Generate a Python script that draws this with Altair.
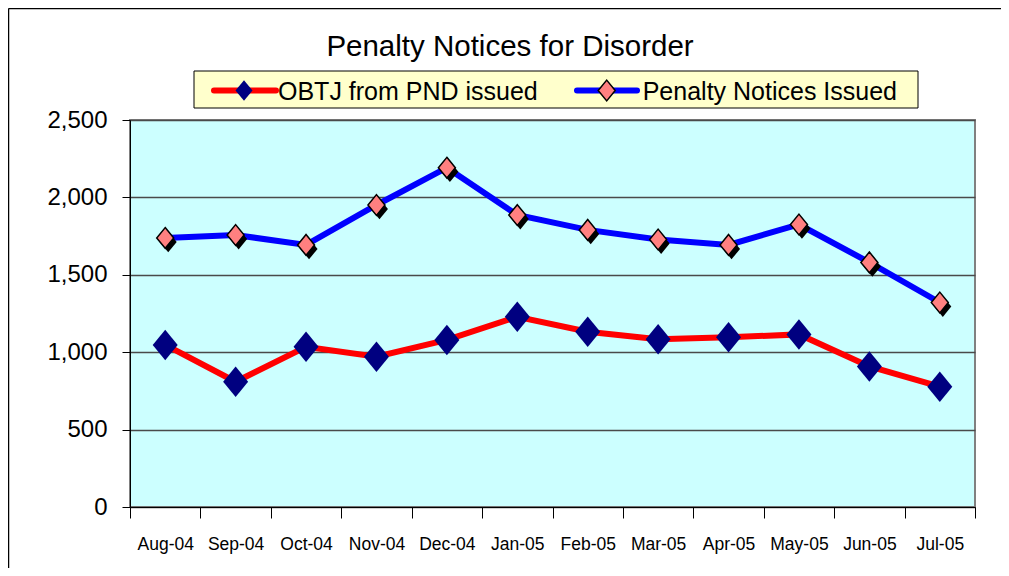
import altair as alt
import pandas as pd

months = ["Aug-04", "Sep-04", "Oct-04", "Nov-04", "Dec-04", "Jan-05",
          "Feb-05", "Mar-05", "Apr-05", "May-05", "Jun-05", "Jul-05"]
obtj = [1047, 809, 1035, 971, 1079, 1229, 1132, 1083, 1096, 1115, 908, 777]
penalty = [1738, 1757, 1693, 1951, 2192, 1886, 1790, 1728, 1693, 1825, 1580, 1321]
series_names = ["OBTJ from PND issued", "Penalty Notices Issued"]
title_text = "Penalty Notices for Disorder"

FONT = "Liberation Sans, Arial, sans-serif"
DIAMOND = "M0,-1.22L1,0L0,1.22L-1,0Z"

rows = []
for m, v in zip(months, obtj):
    rows.append({"month": m, "value": v, "series": series_names[0]})
for m, v in zip(months, penalty):
    rows.append({"month": m, "value": v, "series": series_names[1]})
df = pd.DataFrame(rows)

xenc = alt.X("month:N", sort=months,
             scale=alt.Scale(type="band", paddingInner=0, paddingOuter=0),
             axis=alt.Axis(title=None, labelAngle=0, tickBand="extent", tickSize=11,
                           tickColor="black", domainColor="black", domainWidth=1,
                           labelFont=FONT, labelFontSize=17.5, labelColor="black",
                           labelPadding=17, grid=False))
yenc = alt.Y("value:Q",
             scale=alt.Scale(domain=[0, 2500], nice=False, zero=True),
             axis=alt.Axis(title=None, values=[0, 500, 1000, 1500, 2000, 2500], format=",.0f",
                           tickSize=8, tickColor="black", domainColor="black", domainWidth=1,
                           labelFont=FONT, labelFontSize=24, labelColor="black",
                           labelPadding=15, grid=True, gridColor="#4a4a4a", gridWidth=1.3))
color = alt.Color("series:N", scale=alt.Scale(domain=series_names, range=["#FF0000", "#0000FF"]),
                  legend=None)

base = alt.Chart(df)
lines = base.mark_line(strokeWidth=6).encode(x=xenc, y=yenc, color=color)

x2 = alt.X("month:N", sort=months)
y2 = alt.Y("value:Q")
navy = base.transform_filter(alt.datum.series == series_names[0]).mark_point(
    shape=DIAMOND, size=625, filled=True, fill="#000080", opacity=1
).encode(x=x2, y=y2)
shadow = base.transform_filter(alt.datum.series == series_names[1]).mark_point(
    shape=DIAMOND, size=289, filled=True, fill="black", opacity=1, xOffset=3, yOffset=4
).encode(x=x2, y=y2)
salmon = base.transform_filter(alt.datum.series == series_names[1]).mark_point(
    shape=DIAMOND, size=289, filled=True, fill="#FF8080", stroke="black", strokeWidth=1.5, opacity=1
).encode(x=x2, y=y2)

one = pd.DataFrame({"a": [0]})
frame_top = alt.Chart(one).mark_rule(color="black", strokeWidth=1.5).encode(
    x=alt.value(-121.5), x2=alt.value(871), y=alt.value(-111.5))
frame_left = alt.Chart(one).mark_rule(color="black", strokeWidth=1.5).encode(
    x=alt.value(-121.5), y=alt.value(-111.5), y2=alt.value(448))
title = alt.Chart(one).mark_text(text=title_text, font=FONT, fontSize=29.5, align="center",
                                 baseline="alphabetic", color="black").encode(
    x=alt.value(380), y=alt.value(-64))
legbox = alt.Chart(one).mark_rect(fill="#FFFFCC", stroke="black", strokeWidth=1).encode(
    x=alt.value(64), x2=alt.value(788), y=alt.value(-49), y2=alt.value(-12))
leg1line = alt.Chart(one).mark_rule(color="#FF0000", strokeWidth=6, strokeCap="round").encode(
    x=alt.value(84), x2=alt.value(146), y=alt.value(-29.5))
leg1pt = alt.Chart(one).mark_point(shape=DIAMOND, size=289, filled=True, fill="#000080", opacity=1).encode(
    x=alt.value(114), y=alt.value(-29.5))
leg1txt = alt.Chart(one).mark_text(text=series_names[0], font=FONT, fontSize=25, align="left",
                                   baseline="alphabetic", color="black").encode(
    x=alt.value(148), y=alt.value(-20))
leg2line = alt.Chart(one).mark_rule(color="#0000FF", strokeWidth=6, strokeCap="round").encode(
    x=alt.value(447), x2=alt.value(507), y=alt.value(-29.5))
leg2pt = alt.Chart(one).mark_point(shape=DIAMOND, size=289, filled=True, fill="#FF8080",
                                   stroke="black", strokeWidth=1.5, opacity=1).encode(
    x=alt.value(476.7), y=alt.value(-29.5))
leg2txt = alt.Chart(one).mark_text(text=series_names[1], font=FONT, fontSize=25, align="left",
                                   baseline="alphabetic", color="black").encode(
    x=alt.value(512.7), y=alt.value(-20))

chart = alt.layer(
    lines, navy, shadow, salmon,
    frame_top, frame_left, title, legbox, leg1line, leg1pt, leg1txt, leg2line, leg2pt, leg2txt
).properties(
    width=845, height=387,
    padding={"left": 122, "top": 112, "right": 26, "bottom": 61},
    autosize=alt.AutoSizeParams(type="none"),
    background="white"
).configure_view(
    fill="#CCFFFF", stroke="#808080", strokeWidth=2
)

chart.save("out.html", embed_options={"renderer": "svg", "actions": False})
